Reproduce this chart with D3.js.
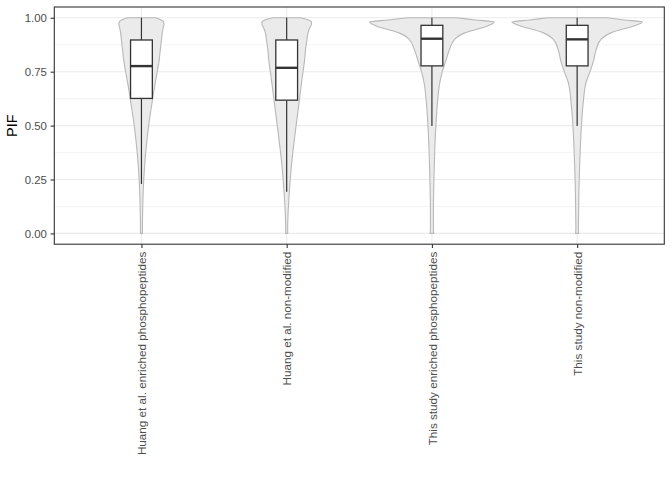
<!DOCTYPE html>
<html>
<head>
<meta charset="utf-8">
<script src="https://cdn.jsdelivr.net/npm/d3@7"></script>
<style>
  body { margin: 0; background: #fff; }
  text { font-family: "Liberation Sans", Arial, sans-serif; }
</style>
</head>
<body>
<div id="chart"></div>
<script>
var w = 672;
var h = 480;

// groups on the x axis
var categories = [
    "Huang et al. enriched phosphopeptides",
    "Huang et al. non-modified",
    "This study enriched phosphopeptides",
    "This study non-modified"
];

var pifGrid = [0, 0.02, 0.1, 0.2, 0.3, 0.4, 0.5, 0.6, 0.7, 0.75, 0.8, 0.85, 0.9, 0.93, 0.95, 0.96, 0.97, 0.98, 0.99, 1.0];
// relative density (arbitrary units, same scale for all groups)
var densityHuangEnriched = [1.0, 1.0, 1.2, 1.8, 3.0, 4.8, 7.3, 10.5, 14, 16, 17.8, 19, 20.3, 21, 21.8, 22.3, 22.8, 22.5, 20, 14];
var densityHuangNonMod   = [1.0, 1.0, 1.5, 2.8, 4.5, 6.8, 9.5, 12.3, 15, 16.5, 18, 19, 20.5, 21.5, 23, 24, 25, 25, 22, 14];
var densityStudyEnriched = [1.8, 1.5, 1.5, 1.8, 2.3, 3.0, 4.0, 5.5, 8.0, 10.5, 14, 17.5, 23, 33, 48, 55, 60, 63, 44, 25];
var densityStudyNonMod   = [1.6, 1.3, 1.5, 1.8, 2.4, 3.2, 4.3, 6.0, 9.0, 13, 16.5, 19, 24, 34, 48, 56, 62, 66, 48, 30];
var densities = [densityHuangEnriched, densityHuangNonMod, densityStudyEnriched, densityStudyNonMod];

// box plot statistics
var whiskerLow  = [0.229, 0.193, 0.498, 0.498];
var q1          = [0.626, 0.618, 0.777, 0.777];
var medians     = [0.776, 0.768, 0.903, 0.900];
var q3          = [0.897, 0.897, 0.965, 0.965];
var whiskerHigh = [1.0, 1.0, 1.0, 1.0];

var yTicks = [0, 0.25, 0.5, 0.75, 1];
var yMinorTicks = [0.125, 0.375, 0.625, 0.875];

var margin = {top: 7, right: 7.7, bottom: 235.8, left: 54.3};
var pw = w - margin.left - margin.right;
var ph = h - margin.top - margin.bottom;

var svg = d3.select("#chart")
    .append("svg")
    .attr("width", w)
    .attr("height", h);

var g = svg.append("g")
    .attr("transform", "translate(" + margin.left + "," + margin.top + ")");

var x = d3.scalePoint()
    .domain(categories)
    .range([0, pw])
    .padding(0.6);

var y = d3.scaleLinear()
    .domain([-0.05, 1.05])
    .range([ph, 0]);

var maxDensity = d3.max(densities, function (d) { return d3.max(d); });
var wScale = d3.scaleLinear()
    .domain([0, maxDensity])
    .range([0, x.step() * 0.45]);

//grid lines
g.selectAll(".minor")
    .data(yMinorTicks)
    .enter().append("line")
    .attr("x1", 0).attr("x2", pw)
    .attr("y1", function (d) { return y(d); })
    .attr("y2", function (d) { return y(d); })
    .attr("stroke", "#EBEBEB")
    .attr("stroke-width", 0.55);

g.selectAll(".major")
    .data(yTicks)
    .enter().append("line")
    .attr("x1", 0).attr("x2", pw)
    .attr("y1", function (d) { return y(d); })
    .attr("y2", function (d) { return y(d); })
    .attr("stroke", "#EBEBEB")
    .attr("stroke-width", 1.1);

g.selectAll(".vmajor")
    .data(categories)
    .enter().append("line")
    .attr("x1", function (d) { return x(d); })
    .attr("x2", function (d) { return x(d); })
    .attr("y1", 0).attr("y2", ph)
    .attr("stroke", "#EBEBEB")
    .attr("stroke-width", 1.1);

//violins
categories.forEach(function (cat, i) {
    var cx = x(cat);
    var pts = pifGrid.map(function (p, k) { return [p, densities[i][k]]; });
    var area = d3.area()
        .y(function (d) { return y(d[0]); })
        .x0(function (d) { return cx - wScale(d[1]); })
        .x1(function (d) { return cx + wScale(d[1]); })
        .curve(d3.curveMonotoneY);
    g.append("path")
        .attr("d", area(pts))
        .attr("fill", "#EBEBEB")
        .attr("stroke", "#B8B8B8")
        .attr("stroke-width", 1.1);
});

//box plots
var boxHalf = x.step() * 0.075;
categories.forEach(function (cat, i) {
    var cx = x(cat);
    var bg = g.append("g");
    bg.append("line")
        .attr("x1", cx).attr("x2", cx)
        .attr("y1", y(whiskerLow[i])).attr("y2", y(q1[i]))
        .attr("stroke", "#333333").attr("stroke-width", 1.2);
    bg.append("line")
        .attr("x1", cx).attr("x2", cx)
        .attr("y1", y(q3[i])).attr("y2", y(whiskerHigh[i]))
        .attr("stroke", "#333333").attr("stroke-width", 1.2);
    bg.append("rect")
        .attr("x", cx - boxHalf)
        .attr("width", boxHalf * 2)
        .attr("y", y(q3[i]))
        .attr("height", y(q1[i]) - y(q3[i]))
        .attr("fill", "#FFFFFF")
        .attr("stroke", "#333333")
        .attr("stroke-width", 1.3);
    bg.append("line")
        .attr("x1", cx - boxHalf).attr("x2", cx + boxHalf)
        .attr("y1", y(medians[i])).attr("y2", y(medians[i]))
        .attr("stroke", "#333333").attr("stroke-width", 2.4);
});

//panel border
g.append("rect")
    .attr("width", pw).attr("height", ph)
    .attr("fill", "none")
    .attr("stroke", "#333333")
    .attr("stroke-width", 1.1);

//axes
var yAxis = g.append("g")
    .call(d3.axisLeft(y)
        .tickValues(yTicks)
        .tickFormat(d3.format(".2f"))
        .tickSize(3.7)
        .tickPadding(3.8));
yAxis.select(".domain").remove();
yAxis.selectAll("line").attr("stroke", "#333333").attr("stroke-width", 1.1);
yAxis.selectAll("text")
    .attr("fill", "#4D4D4D")
    .style("font-size", "11.4px")
    .style("font-family", "'Liberation Sans', Arial, sans-serif");

var xAxis = g.append("g")
    .attr("transform", "translate(0," + ph + ")")
    .call(d3.axisBottom(x).tickSize(3.7));
xAxis.select(".domain").remove();
xAxis.selectAll("line").attr("stroke", "#333333").attr("stroke-width", 1.1);
xAxis.selectAll("text")
    .attr("transform", "rotate(-90)")
    .attr("x", -7.5)
    .attr("y", 0)
    .attr("dy", "0.35em")
    .style("text-anchor", "end")
    .attr("fill", "#4D4D4D")
    .style("font-size", "11.7px")
    .style("font-family", "'Liberation Sans', Arial, sans-serif");

//y title
svg.append("text")
    .attr("transform", "translate(17," + (margin.top + ph / 2) + ") rotate(-90)")
    .attr("text-anchor", "middle")
    .attr("fill", "#000000")
    .style("font-size", "14.5px")
    .text("PIF");
</script>
</body>
</html>
